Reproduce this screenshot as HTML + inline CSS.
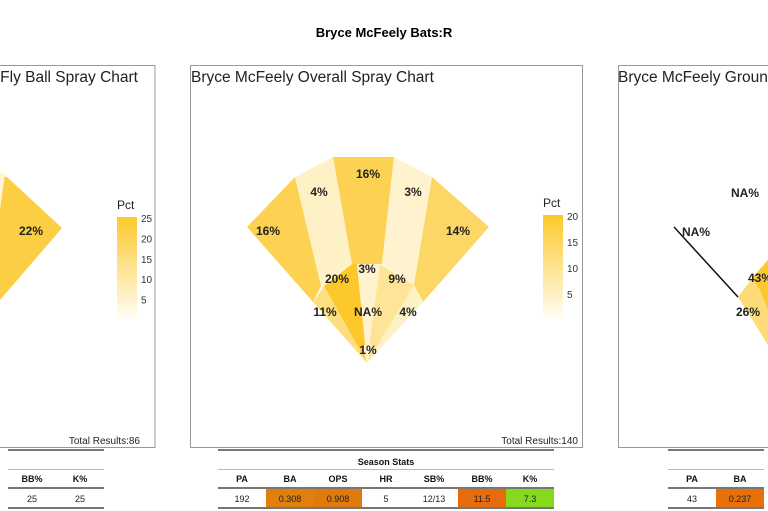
<!DOCTYPE html>
<html><head><meta charset="utf-8">
<style>
html,body{margin:0;padding:0;background:#fff;}
body{width:768px;height:511px;overflow:hidden;position:relative;font-family:"Liberation Sans",Arial,sans-serif;}
svg{position:absolute;left:0;top:0;}
</style></head>
<body>
<svg id="chart" width="768" height="511" viewBox="0 0 768 511" xmlns="http://www.w3.org/2000/svg">
  <defs>
    <linearGradient id="legGrad" x1="0" y1="1" x2="0" y2="0">
      <stop offset="0" stop-color="#fffdf6"/>
      <stop offset="1" stop-color="#fcc92c"/>
    </linearGradient>
  </defs>
  <text x="384" y="37" text-anchor="middle" font-size="13" font-weight="bold" fill="#000">Bryce McFeely Bats:R</text>

  <rect x="-20" y="65.5" width="175" height="382" fill="none" stroke="#999" stroke-width="1"/>
  <rect x="190.5" y="65.5" width="392" height="382" fill="none" stroke="#999" stroke-width="1"/>
  <rect x="618.5" y="65.5" width="180" height="382" fill="none" stroke="#999" stroke-width="1"/>

  <text x="138" y="82" text-anchor="end" font-size="15.5" fill="#222">Bryce McFeely Fly Ball Spray Chart</text>
  <text x="191" y="82" font-size="15.5" fill="#222">Bryce McFeely Overall Spray Chart</text>
  <text x="618" y="82" font-size="15.5" fill="#222">Bryce McFeely Ground Ball Spray Chart</text>

  <text x="140" y="444" text-anchor="end" font-size="10" fill="#222">Total Results:86</text>
  <text x="578" y="444" text-anchor="end" font-size="10" fill="#222">Total Results:140</text>

  <g id="leftG"></g>
  <g id="centerG"></g>
  <g id="rightG"></g>
  <g id="tables"></g>
</svg>
<script>
const centerSectors = ["LF","LCF","CF","RCF","RF","3B","SS","MID","2B","1B","C"];
const centerValues = [16,4,16,3,14,11,20,3,9,4,1];
const centerLabels = ["16%","4%","16%","3%","14%","11%","20%","3%","9%","4%","1%"];
const centerMax = 20;
const centerTicks = [20,15,10,5];
const leftValues = [22,3];
const leftLabels = ["22%"];
const leftMax = 25;
const leftTicks = [25,20,15,10,5];
const rightValues = [43,26];
const rightLabels = ["43%","26%"];
const rightMax = 43;
const tableHeaders = ["PA","BA","OPS","HR","SB%","BB%","K%"];
const centerStats = ["192","0.308","0.908","5","12/13","11.5","7.3"];
const centerStatColors = ["#fff","#e07e0e","#e07a0e","#fff","#fff","#e56b0c","#86d91c"];
const leftHeaders = ["BB%","K%"];
const leftStats = ["25","25"];
const rightHeaders = ["PA","BA"];
const rightStats = ["43","0.237"];
const rightStatColors = ["#fff","#e8700a"];

const NS = "http://www.w3.org/2000/svg";
function mk(tag, attrs, parent){const e=document.createElementNS(NS,tag);for(const k in attrs)e.setAttribute(k,attrs[k]);parent.appendChild(e);return e;}
function colorScale(v,max){
  const t=Math.max(0,Math.min(1,v/max));
  const a=[255,251,236], b=[252,200,44];
  return "rgb("+a.map((c,i)=>Math.round(c+(b[i]-c)*t)).join(",")+")";
}
function pts(arr){return arr.map(p=>p.join(",")).join(" ");}

const H=[367,363];
const centerPolys=[
 [[247,227],[295,177],[321,286],[313,302]],
 [[295,177],[333,157],[352,264],[321,286]],
 [[333,157],[394,157],[382,264],[352,264]],
 [[394,157],[432,177],[414,285],[382,264]],
 [[432,177],[489,227],[423,302],[414,285]],
 [[313,302],[324,286],H],
 [[324,286],[352,264],[357,264],H],
 [[357,264],[380,264],H],
 [[380,264],[414,285],H],
 [[414,285],[423,302],H],
 [[362,345],[372,345],H]
];
const centerLabelPos=[[268,231],[319,192],[368,174],[413,192],[458,231],[325,312],[337,279],[367,269],[397,279],[408,312],[368,350]];
const cg=document.getElementById("centerG");
centerPolys.forEach((p,i)=>{
  const poly=mk("polygon",{points:pts(p),fill:colorScale(centerValues[i],centerMax)},cg);
  
  
});
centerLabels.forEach((l,i)=>{
  const t=mk("text",{x:centerLabelPos[i][0],y:centerLabelPos[i][1]+4,"text-anchor":"middle","font-size":"12","font-weight":"bold",fill:"#222"},cg);
  t.textContent=l;
  
  
});
const naT=mk("text",{x:368,y:316,"text-anchor":"middle","font-size":"12","font-weight":"bold",fill:"#222"},cg);
naT.textContent="NA%";



function legend(g,x,y0,h,ticks,max,prefix){
  const lt=mk("text",{x:x,y:y0-8,"font-size":"12",fill:"#222"},g);lt.textContent="Pct";
  
  
  const r=mk("rect",{x:x,y:y0,width:20,height:h,fill:"url(#legGrad)"},g);
  
  
  ticks.forEach(v=>{
    const yy=y0+h*(1-v/max)+2;
    const t=mk("text",{x:x+24,y:yy+3,"font-size":"10",fill:"#333"},g);t.textContent=v;
    
    
  });
}
legend(cg,543,215,104,centerTicks,centerMax,'center');

const lg=document.getElementById("leftG");
const lp=mk("polygon",{points:"0,176 7,177 62,228 0,300",fill:colorScale(leftValues[0],leftMax)},lg);


const lp2=mk("polygon",{points:"0,172 5,174 0,210",fill:colorScale(leftValues[1],leftMax)},lg);


const ll=mk("text",{x:31,y:235,"text-anchor":"middle","font-size":"12","font-weight":"bold",fill:"#222"},lg);
ll.textContent=leftLabels[0];


legend(lg,117,217,102,leftTicks,leftMax,'left');

const rg=document.getElementById("rightG");
const rp1=mk("polygon",{points:"738,297 754,276 768,270 768,345",fill:colorScale(rightValues[1],rightMax)},rg);


const rp2=mk("polygon",{points:"752,278 768,260 768,310 760,290",fill:colorScale(rightValues[0],rightMax)},rg);


const rl=mk("line",{x1:674,y1:227,x2:738,y2:297,stroke:"#111","stroke-width":"1.5"},rg);


[["NA%",745,197],["NA%",696,236],[rightLabels[0],760,282],[rightLabels[1],748,316]].forEach((d,i)=>{
  const t=mk("text",{x:d[1],y:d[2],"text-anchor":"middle","font-size":"12","font-weight":"bold",fill:"#222"},rg);
  t.textContent=d[0];
  
  
});

const tg=document.getElementById("tables");
function table(x0,headers,vals,colors,title,prefix){
  const w=48,W=w*headers.length;
  const l1=mk("rect",{x:x0,y:449,width:W,height:2,fill:"#777"},tg);
  
  
  if(title){const t=mk("text",{x:x0+W/2,y:465,"text-anchor":"middle","font-size":"9","font-weight":"bold",fill:"#111"},tg);t.textContent=title;
    
    }
  const l2=mk("rect",{x:x0,y:469,width:W,height:1,fill:"#bbb"},tg);
  
  
  headers.forEach((h,i)=>{
    if(colors){const c=mk("rect",{x:x0+i*w,y:489,width:w,height:19,fill:colors[i]},tg);
      
      }
    const t=mk("text",{x:x0+i*w+w/2,y:482,"text-anchor":"middle","font-size":"9","font-weight":"bold",fill:"#111"},tg);t.textContent=h;
    
    
    const v=mk("text",{x:x0+i*w+w/2,y:502,"text-anchor":"middle","font-size":"9",fill:"#222"},tg);v.textContent=vals[i];
    
    
  });
  const l3=mk("rect",{x:x0,y:487,width:W,height:2,fill:"#777"},tg);
  
  
  const l4=mk("rect",{x:x0,y:507,width:W,height:2,fill:"#777"},tg);
  
  
}
table(8,leftHeaders,leftStats,null,null,'left');
table(218,tableHeaders,centerStats,centerStatColors,"Season Stats",'center');
table(668,rightHeaders,rightStats,rightStatColors,null,'right');
</script>
</body></html>
